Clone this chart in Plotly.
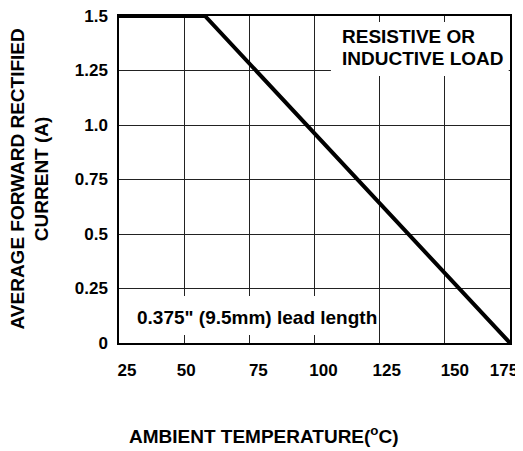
import plotly.graph_objects as go

# ---- data ----
temp_c = [25, 58, 175]
current_a = [1.5, 1.5, 0.0]

x_ticks = [25, 50, 75, 100, 125, 150, 175]
x_tick_labels = ["25", "50", "75", "100", "125", "150", "175"]
y_ticks = [0, 0.25, 0.5, 0.75, 1.0, 1.25, 1.5]
y_tick_labels = ["0", "0.25", "0.5", "0.75", "1.0", "1.25", "1.5"]

note_load_lines = ["RESISTIVE OR", "INDUCTIVE LOAD"]
note_lead = '0.375" (9.5mm) lead length'

# label placement tweaks (pixels), as in the original drawing
x_label_shift_px = [8, 2, 9, 9, 7, 10, -6]

FONT = "Liberation Sans, Arial, sans-serif"
PAGE = 8  # default body margin of the html page
W, H = 523 - PAGE, 451 - PAGE
ML, MR, MT, MB = 119 - PAGE, 13, 16 - PAGE, 108
plot_w = W - ML - MR
plot_h = H - MT - MB
px_per_unit = plot_w / (x_ticks[-1] - x_ticks[0])

label_pos = [v + s / px_per_unit for v, s in zip(x_ticks, x_label_shift_px)]

fig = go.Figure()
fig.add_trace(go.Scatter(x=temp_c, y=current_a, mode="lines",
                         line=dict(color="black", width=4),
                         hoverinfo="skip", showlegend=False))
# invisible trace to host the label axis
fig.add_trace(go.Scatter(x=[x_ticks[0], x_ticks[-1]], y=[0, 0], xaxis="x2",
                         mode="markers", marker=dict(opacity=0),
                         hoverinfo="skip", showlegend=False))

# white boxes behind the notes (hide the grid)
fig.add_shape(type="rect", xref="x", yref="y", x0=25.6, x1=123.6, y0=0.037, y1=0.216,
              fillcolor="white", line=dict(width=0), layer="between")
fig.add_shape(type="rect", xref="x", yref="y", x0=106.3, x1=174.5, y0=1.225, y1=1.472,
              fillcolor="white", line=dict(width=0), layer="between")

note_font = dict(family=FONT, size=19, color="black", weight="bold")
fig.add_annotation(x=31.1, y=0.116, xref="x", yref="y", xanchor="left", yanchor="middle",
                   text=note_lead, showarrow=False, font=note_font)
for line_text, yv in zip(note_load_lines, [1.404, 1.307]):
    fig.add_annotation(x=109.8, y=yv, xref="x", yref="y", xanchor="left", yanchor="middle",
                       text=line_text, showarrow=False, font=note_font)

# axis titles (target page pixels converted to paper coords)
fig.add_annotation(x=(29 - 119) / plot_w, y=0.5, xref="paper", yref="paper",
                   xanchor="center", yanchor="middle", textangle=-90,
                   text="AVERAGE FORWARD RECTIFIED<br>CURRENT (A)", showarrow=False,
                   font=dict(family=FONT, size=19, color="black", weight="bold"))
fig.add_annotation(x=(264 - 119) / plot_w, y=-(435 - 343) / plot_h,
                   xref="paper", yref="paper", xanchor="center", yanchor="middle",
                   text="AMBIENT TEMPERATURE(<sup>o</sup>C)", showarrow=False,
                   font=dict(family=FONT, size=19, color="black", weight="bold"))

tick_font = dict(family=FONT, size=17, color="black", weight="bold")
fig.update_layout(
    width=W, height=H,
    margin=dict(l=ML, r=MR, t=MT, b=MB, autoexpand=False),
    paper_bgcolor="white", plot_bgcolor="white",
    font=dict(family=FONT, color="black"),
    xaxis=dict(range=[x_ticks[0], x_ticks[-1]], tickvals=x_ticks, showticklabels=False,
               showgrid=True, gridcolor="#222222", gridwidth=1, zeroline=False,
               showline=True, linecolor="black", linewidth=1.5, mirror=True, ticks=""),
    xaxis2=dict(range=[x_ticks[0], x_ticks[-1]], overlaying="x", side="bottom",
                tickvals=label_pos, ticktext=x_tick_labels, showgrid=False,
                zeroline=False, showline=False, ticks="", ticklabelstandoff=15,
                ticklabeloverflow="allow", tickfont=tick_font),
    yaxis=dict(range=[y_ticks[0], y_ticks[-1]], tickvals=y_ticks, ticktext=y_tick_labels,
               showgrid=True, gridcolor="#222222", gridwidth=1, zeroline=False,
               showline=True, linecolor="black", linewidth=1.5, mirror=True, ticks="",
               ticklabelstandoff=6, ticklabeloverflow="allow", tickfont=tick_font),
)

fig.write_html("out.html")
